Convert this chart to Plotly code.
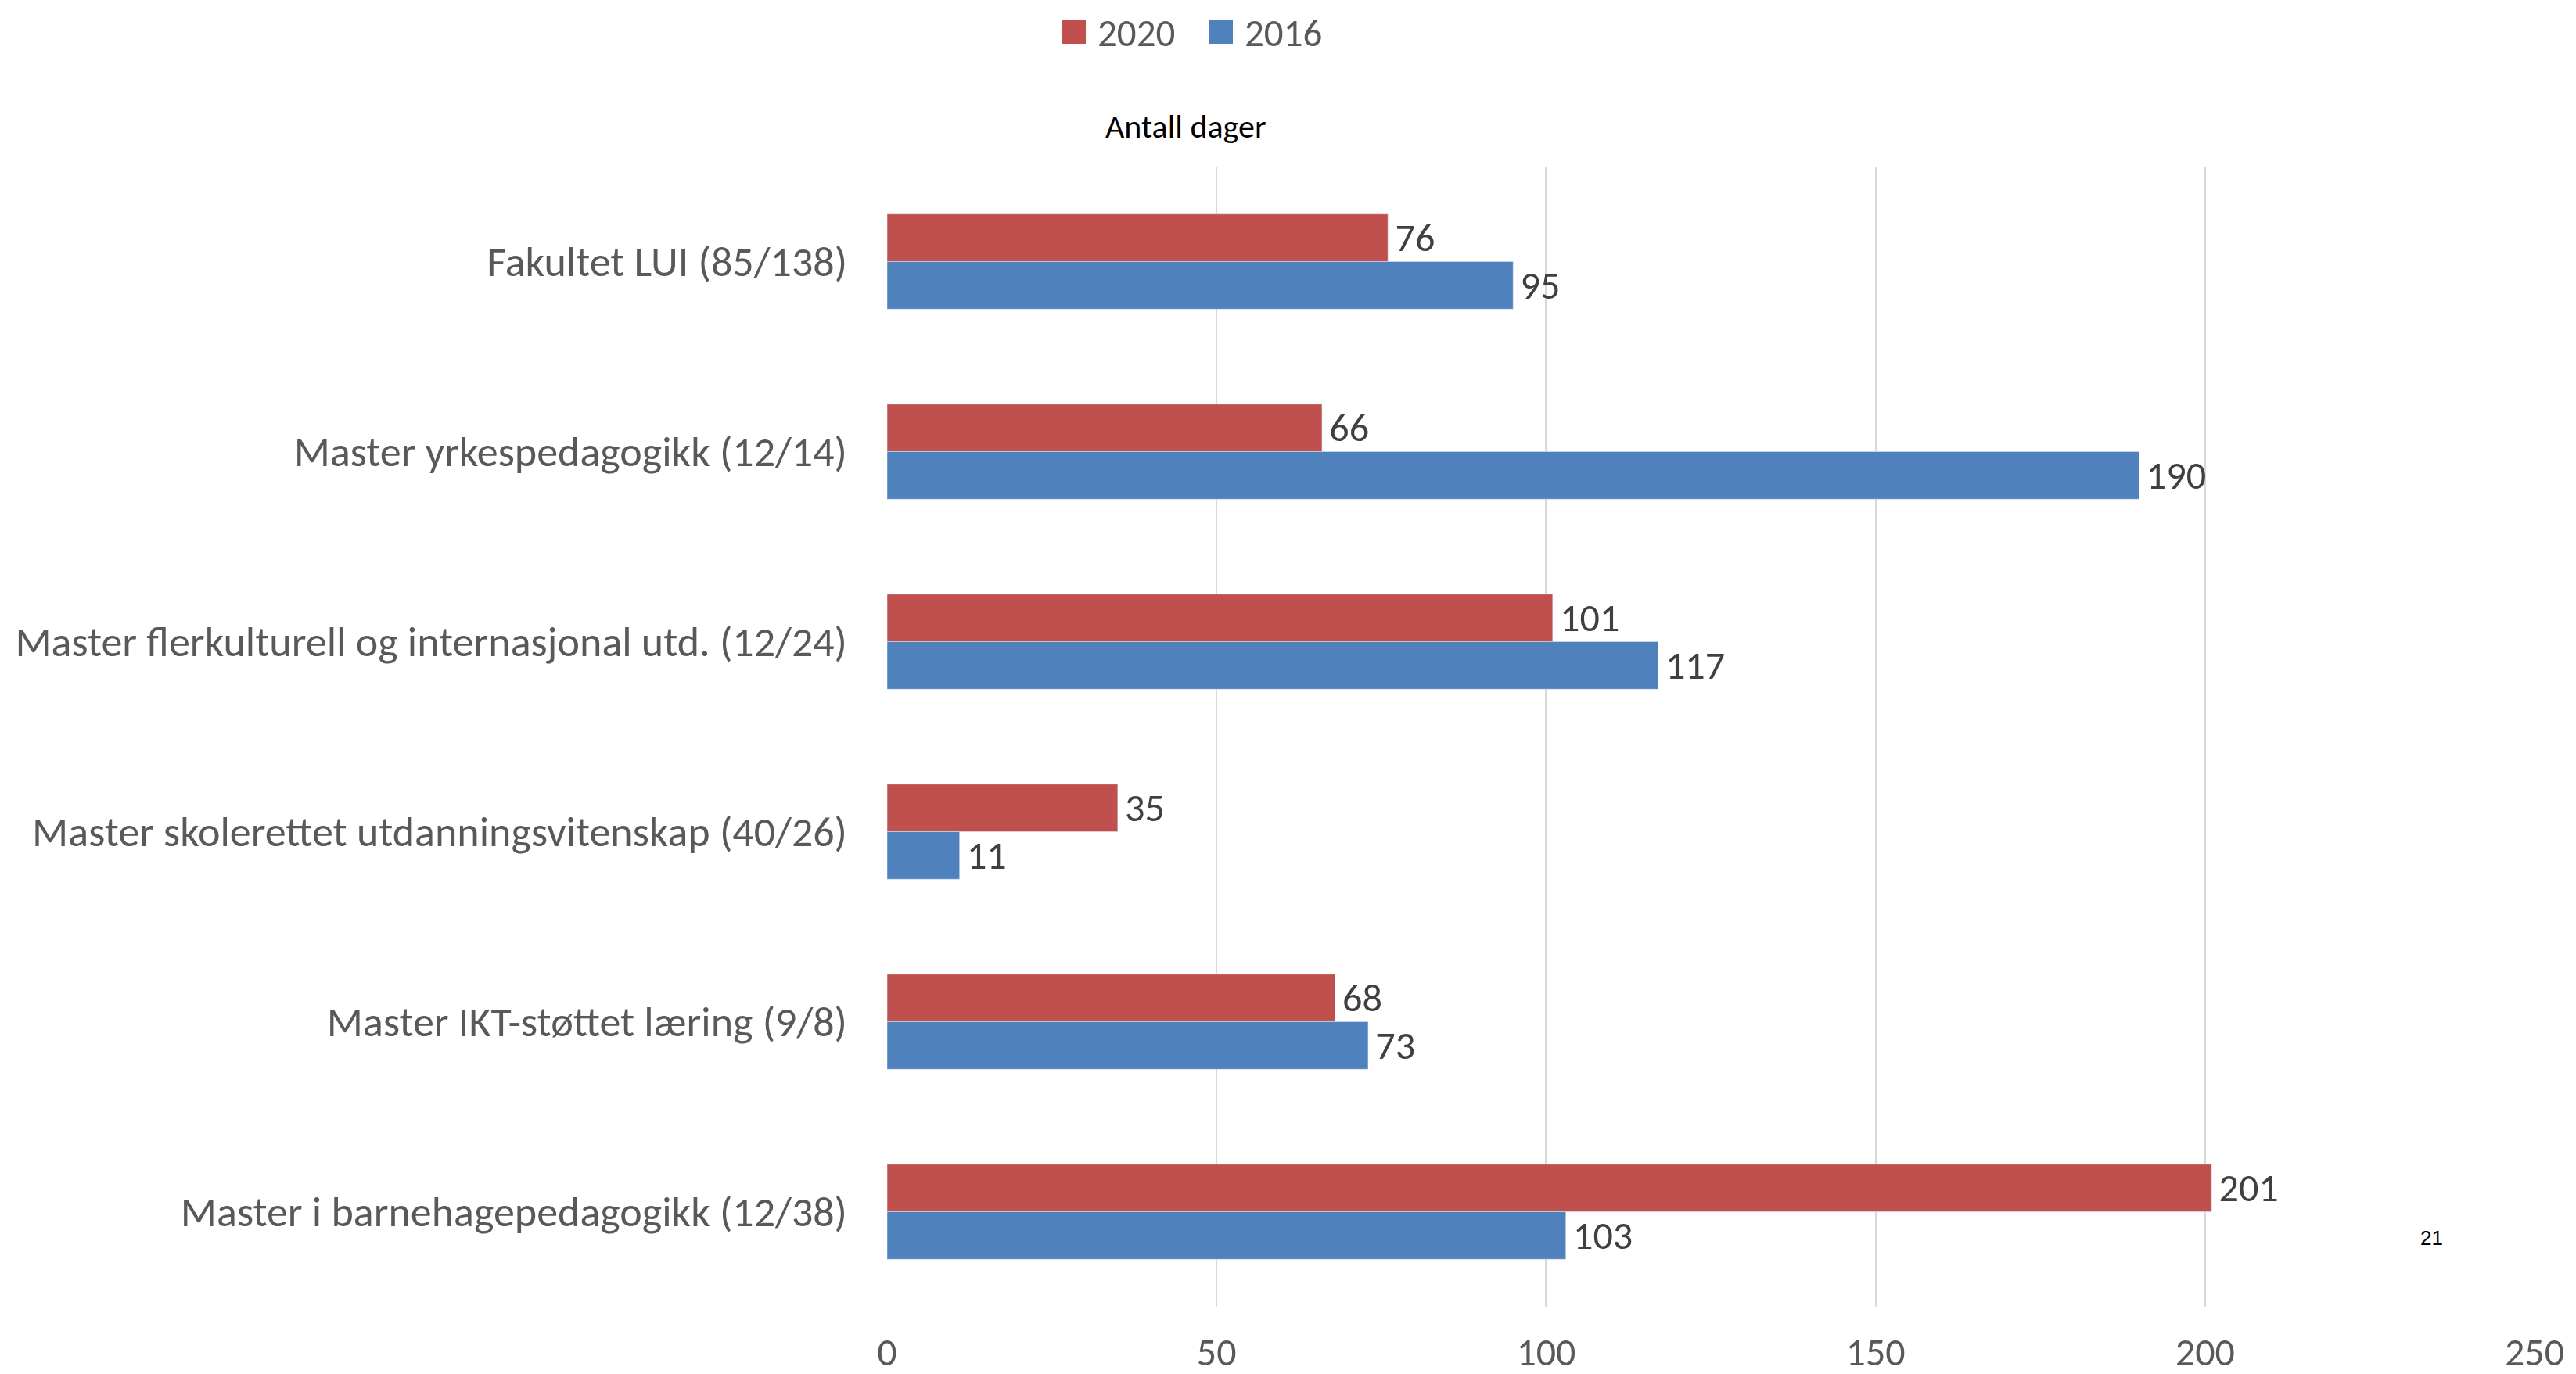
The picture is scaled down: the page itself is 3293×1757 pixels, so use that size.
import plotly.graph_objects as go

categories = [
    "Fakultet LUI (85/138)",
    "Master yrkespedagogikk (12/14)",
    "Master flerkulturell og internasjonal utd. (12/24)",
    "Master skolerettet utdanningsvitenskap (40/26)",
    "Master IKT-støttet læring (9/8)",
    "Master i barnehagepedagogikk (12/38)",
]
values_2020 = [76, 66, 101, 35, 68, 201]
values_2016 = [95, 190, 117, 11, 73, 103]
series_names = ["2020", "2016"]
series_colors = ["#C0504D", "#4F81BD"]
x_ticks = [0, 50, 100, 150, 200, 250]

FONT = "Carlito, Calibri, 'Liberation Sans Narrow', 'Open Sans', sans-serif"
LABEL_SIZE = 57
HS = "\u200a"

fig = go.Figure()
for name, vals, col in zip(series_names, [values_2020, values_2016], series_colors):
    fig.add_trace(go.Bar(
        y=categories, x=vals, name=name, orientation="h",
        marker=dict(color=col),
        text=[HS + str(v) for v in vals], textposition="outside",
        textfont=dict(size=LABEL_SIZE, color="#404040", family=FONT),
        cliponaxis=False, showlegend=False,
    ))

# custom legend (squares + text), placed above the plot
L, R, T, B = 1126, 61, 205, 94
W, H = 3293 - L - R, 1757 - T - B
def px(x):
    return (x - L) / W
def py(y):
    return (1757 - B - y) / H

shapes = []
annotations = []
legend_left = [1350, 1538]
for name, col, x0 in zip(series_names, series_colors, legend_left):
    shapes.append(dict(type="rect", xref="paper", yref="paper",
                       x0=px(x0), x1=px(x0 + 30), y0=py(48), y1=py(18),
                       fillcolor=col, line=dict(width=0)))
    annotations.append(dict(text=name, xref="paper", yref="paper",
                            x=px(x0 + 43), y=py(34), xanchor="left", yanchor="middle",
                            showarrow=False, font=dict(size=49, color="#595959", family=FONT)))

annotations += [
    dict(text="Antall dager", xref="paper", yref="paper", x=px(1508), y=py(153),
         showarrow=False, font=dict(size=42, color="#000000", family=FONT),
         xanchor="center", yanchor="middle"),
    dict(text="21", xref="paper", yref="paper", x=px(3100), y=py(1575),
         showarrow=False, font=dict(size=26, color="#000000", family="Arial, 'Liberation Sans', sans-serif"),
         xanchor="center", yanchor="middle"),
]

fig.update_layout(
    width=3293, height=1757,
    paper_bgcolor="white", plot_bgcolor="white",
    margin=dict(l=L, r=R, t=T, b=B, autoexpand=False),
    barmode="group", bargap=0.5, bargroupgap=0,
    font=dict(family=FONT, color="#595959", size=50),
    showlegend=False,
    xaxis=dict(range=[0, 250], tickvals=x_ticks, showgrid=True, gridcolor="#D9D9D9",
               gridwidth=2, zeroline=False, showline=False, ticks="", automargin=False,
               tickfont=dict(size=50, color="#595959"), ticklabelstandoff=24),
    yaxis=dict(autorange="reversed", showgrid=False, zeroline=False, showline=False,
               ticks="", automargin=False,
               tickfont=dict(size=54, color="#595959"), ticklabelstandoff=50),
    shapes=shapes,
    annotations=annotations,
)

fig.write_html("out.html")
